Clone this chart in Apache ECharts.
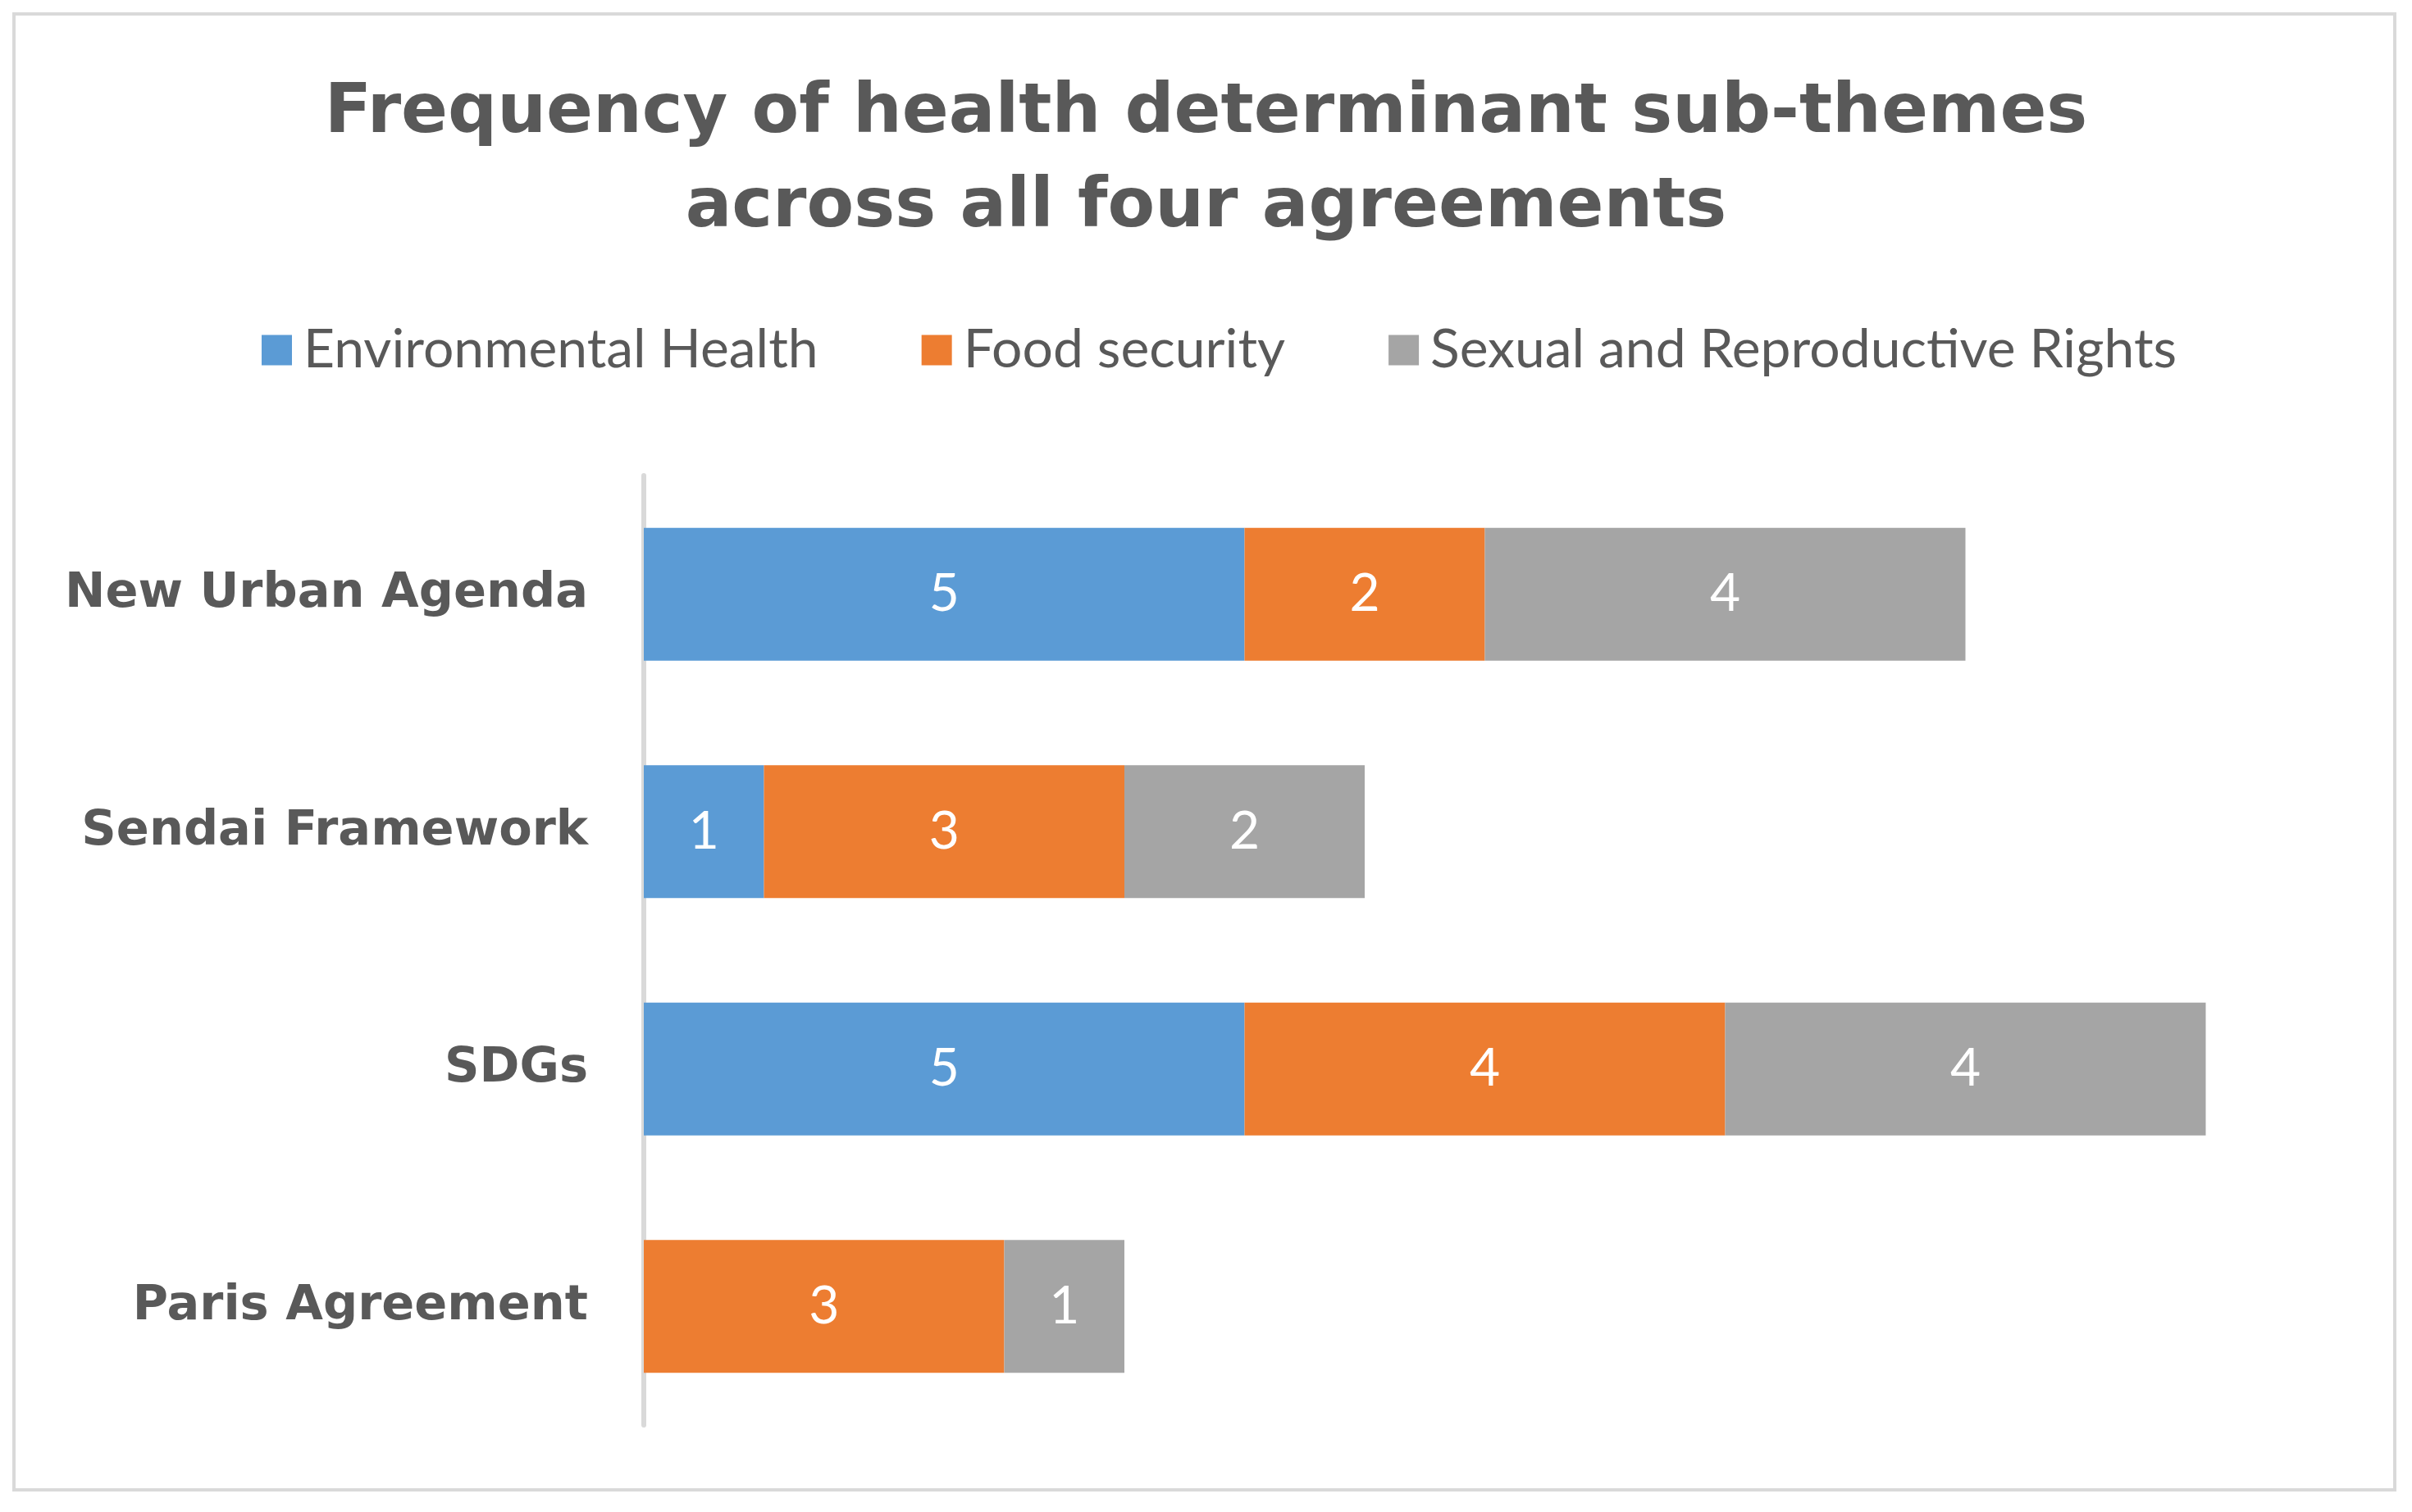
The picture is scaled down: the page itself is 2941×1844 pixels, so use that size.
<!DOCTYPE html>
<html>
<head>
<meta charset="utf-8">
<script src="https://cdn.jsdelivr.net/npm/echarts@6/dist/echarts.min.js"></script>
<style>
html,body{margin:0;padding:0;background:#fff;}
#frame{position:absolute;left:15px;top:15px;width:2907px;height:1804px;border:4px solid #d9d9d9;box-sizing:border-box;}
#chart{position:absolute;left:0;top:0;width:2941px;height:1844px;}
</style>
</head>
<body>
<div id="frame"></div>
<div id="chart"></div>
<script>
const titleText = 'Frequency of health determinant sub-themes\nacross all four agreements';
const categories = ['New Urban Agenda', 'Sendai Framework', 'SDGs', 'Paris Agreement'];
const seriesNames = ['Environmental Health', 'Food security', 'Sexual and Reproductive Rights'];
const envHealth = [5, 1, 5, null];
const foodSecurity = [2, 3, 4, 3];
const sexualRights = [4, 2, 4, 1];
const colors = ['#5B9BD5', '#ED7D31', '#A5A5A5'];

const chart = echarts.init(document.getElementById('chart'));
const valueSets = [envHealth, foodSecurity, sexualRights];
chart.setOption({
  animation: false,
  backgroundColor: 'transparent',
  title: {
    text: titleText,
    left: 'center',
    top: 77,
    textStyle: {
      fontFamily: 'DejaVu Sans',
      fontWeight: 'bold',
      fontSize: 84,
      lineHeight: 115,
      color: '#595959'
    }
  },
  legend: {
    left: 314,
    top: 389,
    itemWidth: 37,
    itemHeight: 37,
    itemGap: 126,
    icon: 'rect',
    data: seriesNames,
    textStyle: {
      fontFamily: 'Lato',
      fontSize: 66,
      color: '#595959',
      padding: [0, 0, 0, 9]
    }
  },
  grid: {
    left: 785,
    top: 580,
    width: 2051,
    height: 1158,
    containLabel: false
  },
  xAxis: {
    type: 'value',
    min: 0,
    max: 14,
    interval: 2,
    show: false,
    splitLine: { show: false }
  },
  yAxis: {
    type: 'category',
    inverse: true,
    data: categories,
    axisTick: { show: false },
    axisLine: { show: true, lineStyle: { color: '#d9d9d9', width: 6 } },
    axisLabel: {
      margin: 68,
      fontFamily: 'DejaVu Sans',
      fontWeight: 'bold',
      fontSize: 59,
      color: '#595959'
    }
  },
  series: seriesNames.map((name, i) => ({
    name: name,
    type: 'bar',
    stack: 'total',
    barCategoryGap: '44%',
    data: valueSets[i],
    itemStyle: { color: colors[i] },
    label: {
      show: true,
      position: 'inside',
      color: '#ffffff',
      fontFamily: 'Lato',
      fontSize: 64
    }
  }))
});
</script>
</body>
</html>
